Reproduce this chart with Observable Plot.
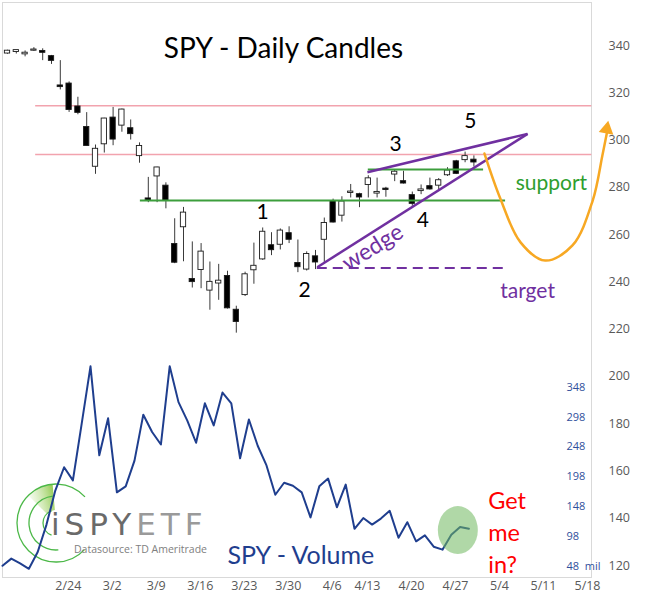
<!DOCTYPE html>
<html>
<head>
<meta charset="utf-8">
<script src="https://cdn.jsdelivr.net/npm/d3@7"></script>
<script src="https://cdn.jsdelivr.net/npm/@observablehq/plot@0.6"></script>
<style>
  body { margin: 0; background: #fff; }
  #chart { position: relative; width: 650px; height: 597px; overflow: hidden; background: #fff; }
  #chart svg { position: absolute; left: 0; top: 0; }
</style>
</head>
<body>
<div id="chart"></div>
<script>
// ---------- DATA ----------
const candleDates = ["2/13","2/14","2/18","2/19","2/20","2/21","2/24","2/25","2/26","2/27","2/28",
  "3/2","3/3","3/4","3/5","3/6","3/9","3/10","3/11","3/12","3/13","3/16","3/17","3/18","3/19","3/20",
  "3/23","3/24","3/25","3/26","3/27","3/30","3/31","4/1","4/2","4/3","4/6","4/7","4/8","4/9",
  "4/13","4/14","4/15","4/16","4/17","4/20","4/21","4/22","4/23","4/24","4/27","4/28","4/29","4/30"];
const futureDates = ["5/1","5/4","5/5","5/6","5/7","5/8","5/11","5/12","5/13","5/14","5/15","5/18"];
const openP  = [336.6,337.5,336.5,337.8,337.7,335.5,323.1,323.9,314.2,305.5,288.7,
  298.2,309.5,306.1,305.0,293.2,275.3,284.6,280.7,256.0,263.1,241.2,245.0,236.3,239.3,242.5,
  228.2,234.4,244.9,249.5,255.5,255.7,260.6,248.0,245.2,250.8,257.8,274.2,268.0,277.6,
  277.1,281.0,277.6,279.2,285.4,282.6,276.7,278.4,280.5,280.7,285.1,291.0,291.5,291.7];
const highP  = [338.0,337.9,337.7,339.1,338.6,335.8,333.6,324.6,318.1,311.6,297.9,
  309.2,313.8,313.1,308.5,298.8,284.2,288.5,281.9,266.7,271.5,256.9,256.2,248.4,247.4,244.5,
  229.7,244.1,256.4,262.8,260.8,262.4,263.3,257.7,252.7,253.3,267.0,275.0,276.0,281.2,
  277.5,284.9,283.9,280.0,287.3,286.8,278.0,281.0,283.9,283.7,288.3,291.4,294.9,293.3];
const lowP   = [336.3,336.4,335.2,337.5,333.6,332.0,321.2,311.7,310.7,297.5,285.5,
  294.5,297.6,303.3,300.0,290.2,273.5,273.5,270.9,247.7,248.5,237.4,237.1,228.0,232.2,228.5,
  218.3,233.8,239.0,249.1,251.1,253.5,256.2,243.9,244.6,245.2,248.2,264.9,265.3,275.5,
  271.4,275.5,275.5,275.8,282.4,281.4,272.0,276.9,278.8,278.5,284.6,285.4,290.4,288.6];
const closeP = [337.8,337.8,336.7,338.3,336.9,333.5,322.4,312.7,311.5,297.5,296.3,
  309.1,300.2,312.9,302.5,297.5,274.2,288.4,274.4,248.1,269.3,239.9,252.8,240.0,240.5,228.8,
  223.0,243.2,246.8,261.2,253.4,261.7,257.8,246.2,251.8,248.2,264.9,265.1,274.0,278.2,
  275.7,283.8,277.8,279.1,286.6,281.6,273.0,279.1,279.1,283.0,287.1,285.7,293.2,290.5];
// SPY volume, millions
const volumeM = [49,61,53,44,72,118,175,214,192,287,383,234,296,172,182,225,302,273,252,383,
  323,292,255,321,284,339,321,229,294,250,217,168,188,183,172,130,182,195,147,185,
  111,129,118,128,141,96,122,90,100,81,76,101,114,111];

const weekLabels = ["2/24","3/2","3/9","3/16","3/23","3/30","4/6","4/13","4/20","4/27","5/4","5/11","5/18"];
const priceTicks = [120,140,160,180,200,220,240,260,280,300,320,340];
const volTicks = [348,298,248,198,148,98,48];
const volTickLabels = ["348","298","248","198","148","98","48\u00a0\u00a0mil"];

// Annotations (x = trading-day index, y = price)
const resistanceLevels = [314.5, 293.9];
const supportLines = [{y: 274.4, x1: 15.1, x2: 56.6}, {y: 287.5, x1: 41.0, x2: 54.1}];
const wedgeLines = [{x1: 35.2, y1: 246.2, x2: 59.1, y2: 302.6}, {x1: 40.9, y1: 286.4, x2: 59.1, y2: 302.6}];
const targetLine = [{y: 245.9, x1: 35.2, x2: 56.6}];
const projection = [[54.2,294.3],[56.0,275.3],[58.3,256.7],[61.1,249.0],[64.2,255.4],[66.5,274.4],[67.6,293.5],[68.1,302.8]];
const projectionTip = [[68.1, 304.6]];
const waveLabels = ["1","2","3","4","5"];
const waveX = [29.0, 33.75, 44.1, 47.2, 52.6];
const waveY = [269.3, 236.3, 298.1, 266.0, 307.8];

// ---------- BUILD ----------
const allDays = candleDates.concat(futureDates);
const candles = candleDates.map((d, i) => ({
  date: d, i, open: openP[i], high: highP[i], low: lowP[i], close: closeP[i],
  top: Math.abs(closeP[i] - openP[i]) < 0.5 ? Math.max(openP[i], closeP[i]) + 0.25 : Math.max(openP[i], closeP[i]),
  bottom: Math.abs(closeP[i] - openP[i]) < 0.5 ? Math.min(openP[i], closeP[i]) - 0.25 : Math.min(openP[i], closeP[i]),
  up: closeP[i] >= openP[i]
}));
const vol = candleDates.map((d, i) => ({i, v: volumeM[i]}));
const waves = waveLabels.map((t, k) => ({t, x: waveX[k], y: waveY[k]}));

const X_DOMAIN = [0, 65];
const FONT = "Lato, 'Open Sans', sans-serif";

const pricePlot = Plot.plot({
  width: 650, height: 597,
  marginLeft: 2, marginTop: 2, marginRight: 59, marginBottom: 20,
  x: {domain: X_DOMAIN, range: [7, 579]},
  y: {domain: [120, 340], range: [565, 45]},
  style: {fontFamily: FONT, background: "white", overflow: "visible"},
  marks: [
    Plot.frame({stroke: "#d9d9d9"}),
    Plot.axisY({anchor: "right", ticks: priceTicks, tickSize: 0, tickPadding: 17, fontSize: 12.5, label: null,
      fill: "#595959", fontFamily: "'Open Sans', sans-serif"}),
    Plot.axisX({anchor: "bottom", ticks: weekLabels.map(w => allDays.indexOf(w)), tickFormat: i => allDays[i],
      tickSize: 0, tickPadding: 4, dx: 8, fontSize: 12.5, fill: "#595959", label: null, fontFamily: "'Open Sans', sans-serif"}),
    Plot.ruleY(resistanceLevels, {x1: 3.2, x2: 66.4, stroke: "#f2a3ae", strokeWidth: 1.6}),
    Plot.ruleX(candles, {x: "i", y1: "low", y2: "high", stroke: "#3a3a3a", strokeWidth: 1}),
    Plot.rect(candles, {x1: d => d.i - 0.3, x2: d => d.i + 0.3, y1: "bottom", y2: "top",
      fill: d => d.up ? "white" : "black", stroke: "#1a1a1a", strokeWidth: 0.9}),
    Plot.ruleY(supportLines, {y: "y", x1: "x1", x2: "x2", stroke: "#3c9e3c", strokeWidth: 2}),
    Plot.ruleY(targetLine, {y: "y", x1: "x1", x2: "x2", stroke: "#7030a0", strokeWidth: 2, strokeDasharray: "10,6"}),
    Plot.link(wedgeLines, {x1: "x1", y1: "y1", x2: "x2", y2: "y2", stroke: "#7030a0", strokeWidth: 2.5}),
    Plot.line(projection, {x: d => d[0], y: d => d[1], curve: "catmull-rom", stroke: "#f7a823", strokeWidth: 2.5}),
    Plot.dot(projectionTip, {x: d => d[0], y: d => d[1], symbol: "triangle", r: 5.5, fill: "#f7a823", stroke: null, rotate: 10}),
    Plot.text(["SPY - Daily Candles"], {x: 31.36, y: 338.7, text: d => d, fontSize: 28, fill: "black"}),
    Plot.text(waves, {x: "x", y: "y", text: "t", fontSize: 21, fill: "black"}),
    Plot.text(["wedge"], {x: 41.5, y: 254.5, text: d => d, fontSize: 23, fill: "#7030a0", rotate: -32}),
    Plot.text(["support"], {x: 61.8, y: 281.6, text: d => d, fontSize: 21, fill: "#2e9e2e"}),
    Plot.text(["target"], {x: 59.1, y: 236.0, text: d => d, fontSize: 21, fill: "#7030a0"})
  ]
});

const VX_RANGE = [2, 574];
const VY_RANGE = [565.9, 386.7];
const volPlot = Plot.plot({
  width: 650, height: 597,
  marginLeft: 0, marginTop: 0, marginRight: 84, marginBottom: 0,
  x: {domain: X_DOMAIN, range: VX_RANGE, axis: null},
  y: {domain: [48, 348], range: VY_RANGE},
  style: {fontFamily: FONT, background: "transparent", overflow: "visible"},
  marks: [
    Plot.axisY({anchor: "right", ticks: volTicks, tickFormat: v => volTickLabels[volTicks.indexOf(v)], label: null,
      tickSize: 0, tickPadding: 0, fontSize: 11, fill: "#2f4f9c", fontFamily: "'Open Sans', sans-serif"}),
    Plot.line(vol, {x: "i", y: "v", stroke: "#1f3e8e", strokeWidth: 2}),
    Plot.text(["SPY - Volume"], {x: 33.9, y: 66.2, text: d => d, fontSize: 25, fill: "#1f3e8e"}),
    Plot.text(["Get\nme\nin?"], {x: 55.2, y: 108, text: d => d, fontSize: 23.5, fill: "#ff0000",
      textAnchor: "start", lineHeight: 1.36})
  ]
});

const chart = document.getElementById("chart");
chart.appendChild(pricePlot);
chart.appendChild(volPlot);

// ---------- decorations on the volume layer ----------
const svg = d3.select(volPlot);
const xv = d3.scaleLinear().domain(X_DOMAIN).range(VX_RANGE);
const yv = d3.scaleLinear().domain([48, 348]).range(VY_RANGE);

// highlight ellipse around the latest volume uptick
svg.append("ellipse")
  .attr("cx", xv(51.8)).attr("cy", yv(108))
  .attr("rx", 20).attr("ry", 24)
  .attr("fill", "#6fb85f").attr("fill-opacity", 0.55);

// logo (behind the line)
const logo = svg.insert("g", ":first-child");
const defs = logo.append("defs");
const grad = defs.append("linearGradient").attr("id", "sweep").attr("x1", "1").attr("x2", "0").attr("y1", "0").attr("y2", "0.3");
grad.append("stop").attr("offset", "0").attr("stop-color", "#86c43d").attr("stop-opacity", 1);
grad.append("stop").attr("offset", "1").attr("stop-color", "#b9df8c").attr("stop-opacity", 0.15);
const cx = 56, cy = 523;
const rad = Math.PI / 180;
function arcPath(r, a0, a1) {
  const p = d3.path();
  p.moveTo(cx + r * Math.cos(a0 * rad), cy + r * Math.sin(a0 * rad));
  p.arc(cx, cy, r, a0 * rad, a1 * rad, true);
  return p.toString();
}
// sweep
const sp = d3.path();
sp.moveTo(cx + 39 * Math.cos(-95 * rad), cy + 39 * Math.sin(-95 * rad));
sp.arc(cx, cy, 39, -95 * rad, -135 * rad, true);
sp.lineTo(cx + 13 * Math.cos(-135 * rad), cy + 13 * Math.sin(-135 * rad));
sp.arc(cx, cy, 13, -135 * rad, -95 * rad, false);
sp.closePath();
logo.append("path").attr("d", sp.toString()).attr("fill", "url(#sweep)");
[[39, -42, -317], [27, -97, -275], [13, -110, -250]].forEach(([r, a0, a1]) => {
  logo.append("path").attr("d", arcPath(r, a0, a1)).attr("fill", "none")
    .attr("stroke", "#4cb848").attr("stroke-width", 1.3);
});
const lt = logo.append("text").attr("x", 51).attr("y", 535).attr("text-anchor", "start")
  .attr("font-family", "'DejaVu Sans', sans-serif").attr("font-size", 31).attr("letter-spacing", 5);
lt.append("tspan").attr("fill", "#6a6a6a").text("iSPY");
lt.append("tspan").attr("fill", "#9a9a9a").text("ETF");
logo.append("text").attr("x", 207).attr("y", 553).attr("text-anchor", "end")
  .attr("font-family", "'Open Sans', sans-serif").attr("font-size", 10.5).attr("fill", "#808080")
  .text("Datasource: TD Ameritrade");
</script>
</body>
</html>
